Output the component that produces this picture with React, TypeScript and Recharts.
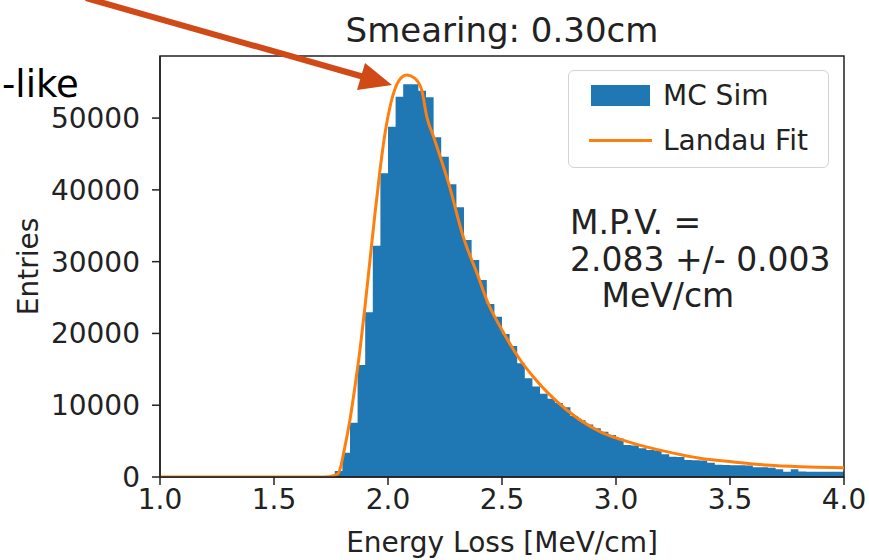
import {ComposedChart, Area, Line, XAxis, YAxis, Legend, ReferenceArea} from 'recharts';

import type {ReactElement} from 'react';

// histogram: 90 bins of width 1/30 between 1.0 and 4.0 MeV/cm
const BIN_START = 1.0;
const BIN_WIDTH = 1 / 30;
const binCounts = [
	0, 0, 0, 0, 0, 0, 0, 0, 0, 0,
	0, 0, 0, 0, 0, 0, 0, 0, 0, 0,
	0, 0, 150, 840, 3390, 7560, 15600, 22940, 32220, 42300,
	48800, 52980, 54700, 54700, 53800, 52890, 47320, 44620, 40770, 37570,
	33010, 30230, 27440, 24100, 22330, 19920, 18250, 15840, 13750, 12600,
	11600, 10900, 10300, 9700, 8500, 7900, 7300, 6800, 6300, 5850,
	5380, 4460, 4400, 3990, 3760, 3700, 3160, 2830, 2800, 2370,
	2350, 2300, 1990, 1700, 1670, 1650, 1650, 1600, 1350, 1350,
	1300, 1070, 740, 1070, 760, 740, 740, 740, 740, 740
];

// Landau fit curve
const fitX = [
	1.0, 1.7, 1.74, 1.76, 1.782, 1.811, 1.833, 1.855, 1.877, 1.899, 1.921, 1.943, 1.965, 1.987,
	2.016, 2.045, 2.082, 2.118, 2.148, 2.17, 2.2, 2.266, 2.33, 2.396, 2.433, 2.5, 2.58,
	2.637, 2.784, 2.93, 3.076, 3.222, 3.368, 3.515, 3.661, 3.807, 4.0
];
const fitY = [
	0, 0, 30, 180, 510, 4220, 7940, 12580, 17690, 23720, 30230, 36730, 42770, 47880,
	52520, 55070, 56000, 55540, 53900, 50200, 47400, 40900, 33470, 27900, 24660, 20480, 16300,
	13970, 9330, 6310, 4690, 3530, 2600, 2100, 1670, 1430, 1300
];

const xTicks = [1.0, 1.5, 2.0, 2.5, 3.0, 3.5, 4.0];
const yTicks = [0, 10000, 20000, 30000, 40000, 50000];
const Y_MAX = 58650;

const histData = [
	...binCounts.map((count, i) => ({x: BIN_START + i * BIN_WIDTH, count})),
	{x: BIN_START + binCounts.length * BIN_WIDTH, count: binCounts[binCounts.length - 1]}
];
const fitData = fitX.map((x, i) => ({x, fit: fitY[i]}));

const FONT = '"DejaVu Sans", sans-serif';
const INK = '#222';

function renderLegend(props: any): ReactElement {
	// matplotlib puts the histogram patch before the line
	const payload = [...(props.payload || [])].sort((a: any, b: any) => (a.type === 'rect' ? -1 : 0) - (b.type === 'rect' ? -1 : 0));
	return (
		<div
			style={{
				position: 'relative',
				boxSizing: 'border-box',
				width: 261,
				height: 98,
				border: '1.5px solid #d3d3d3',
				borderRadius: 6,
				background: 'rgba(255,255,255,0.8)',
				fontFamily: FONT,
				fontSize: 28,
				color: INK
			}}>
			{payload.map((entry: any, i: number) => (
				<div
					key={i}
					style={{position: 'absolute', left: 0, top: 2 + i * 45, height: 45, width: '100%', display: 'flex', alignItems: 'center'}}>
					<div style={{width: 94, display: 'flex', justifyContent: 'center', paddingLeft: 8, boxSizing: 'border-box'}}>
						{entry.type === 'line' ? (
							<div style={{width: 63, height: 3.5, background: entry.color}} />
						) : (
							<div style={{width: 59, height: 21, background: entry.color}} />
						)}
					</div>
					<span style={{whiteSpace: 'pre'}}>{entry.value}</span>
				</div>
			))}
		</div>
	);
}

export default function App(): ReactElement {
	return (
		<div style={{position: 'absolute', left: 0, top: 0, width: 869, height: 560, background: '#fff'}}>
			<ComposedChart
				width={869}
				height={560}
				data={histData}
				margin={{top: 56, right: 25, bottom: 0, left: 0}}
				style={{fontFamily: FONT}}>
				<XAxis
					dataKey={'x'}
					type={'number'}
					domain={[1, 4]}
					ticks={xTicks}
					allowDataOverflow
					height={83}
					tickFormatter={(v: number) => v.toFixed(1)}
					tick={{fontSize: 28, fill: INK}}
					tickSize={8}
					tickMargin={4}
					stroke={INK}
					strokeWidth={1.5}
					label={{
						content: ({viewBox}: any) => (
							<text x={viewBox.x + viewBox.width / 2} y={552} textAnchor={'middle'} fontSize={28} fill={INK} fontFamily={FONT}>
								{'Energy Loss [MeV/cm]'}
							</text>
						)
					}}
				/>
				<YAxis
					type={'number'}
					domain={[0, Y_MAX]}
					ticks={yTicks}
					allowDataOverflow
					width={160}
					tick={{fontSize: 28, fill: INK}}
					tickSize={8}
					tickMargin={12}
					stroke={INK}
					strokeWidth={1.5}
					label={{
						content: ({viewBox}: any) => {
							const cy = viewBox.y + viewBox.height / 2;
							return (
								<text
									x={28}
									y={cy}
									transform={`rotate(-90, 28, ${cy})`}
									textAnchor={'middle'}
									dominantBaseline={'central'}
									fontSize={28}
									fill={INK}
									fontFamily={FONT}>
									{'Entries'}
								</text>
							);
						}
					}}
				/>
				<Area
					type={'stepAfter'}
					dataKey={'count'}
					name={'MC Sim'}
					fill={'#1f77b4'}
					fillOpacity={1}
					stroke={'none'}
					legendType={'rect'}
					isAnimationActive={false}
				/>
				<Line
					data={fitData}
					type={'monotone'}
					dataKey={'fit'}
					name={'Landau Fit'}
					stroke={'#ff7f0e'}
					strokeWidth={3}
					dot={false}
					activeDot={false}
					legendType={'line'}
					isAnimationActive={false}
				/>
				<ReferenceArea x1={1} x2={4} y1={0} y2={Y_MAX} fill={'none'} stroke={INK} strokeWidth={1.5} ifOverflow={'visible'} />
				<Legend
					layout={'vertical'}
					align={'center'}
					verticalAlign={'middle'}
					content={renderLegend}
					wrapperStyle={{position: 'absolute', left: 568, top: 70, width: 261, height: 98}}
				/>
			</ComposedChart>

			<div
				style={{
					position: 'absolute',
					left: 160,
					top: 13,
					width: 684,
					textAlign: 'center',
					fontFamily: FONT,
					fontSize: 34,
					lineHeight: '34px',
					color: INK
				}}>
				{'Smearing: 0.30cm'}
			</div>

			<div
				style={{
					position: 'absolute',
					left: 570,
					top: 205,
					fontFamily: FONT,
					fontSize: 33,
					lineHeight: '36.7px',
					color: INK,
					whiteSpace: 'pre'
				}}>
				{'M.P.V. =\n2.083 +/- 0.003\n   MeV/cm'}
			</div>

			<div
				style={{
					position: 'absolute',
					left: 2,
					top: 66,
					fontFamily: FONT,
					fontSize: 37,
					lineHeight: '37px',
					color: '#000',
					whiteSpace: 'pre'
				}}>
				{'-like'}
			</div>

			<svg width={869} height={560} style={{position: 'absolute', left: 0, top: 0, pointerEvents: 'none'}}>
				<line x1={86} y1={-2} x2={364} y2={77} stroke={'#d04a17'} strokeWidth={6} />
				<polygon points={'392,85 357,90 365,63'} fill={'#d04a17'} />
			</svg>
		</div>
	);
}
